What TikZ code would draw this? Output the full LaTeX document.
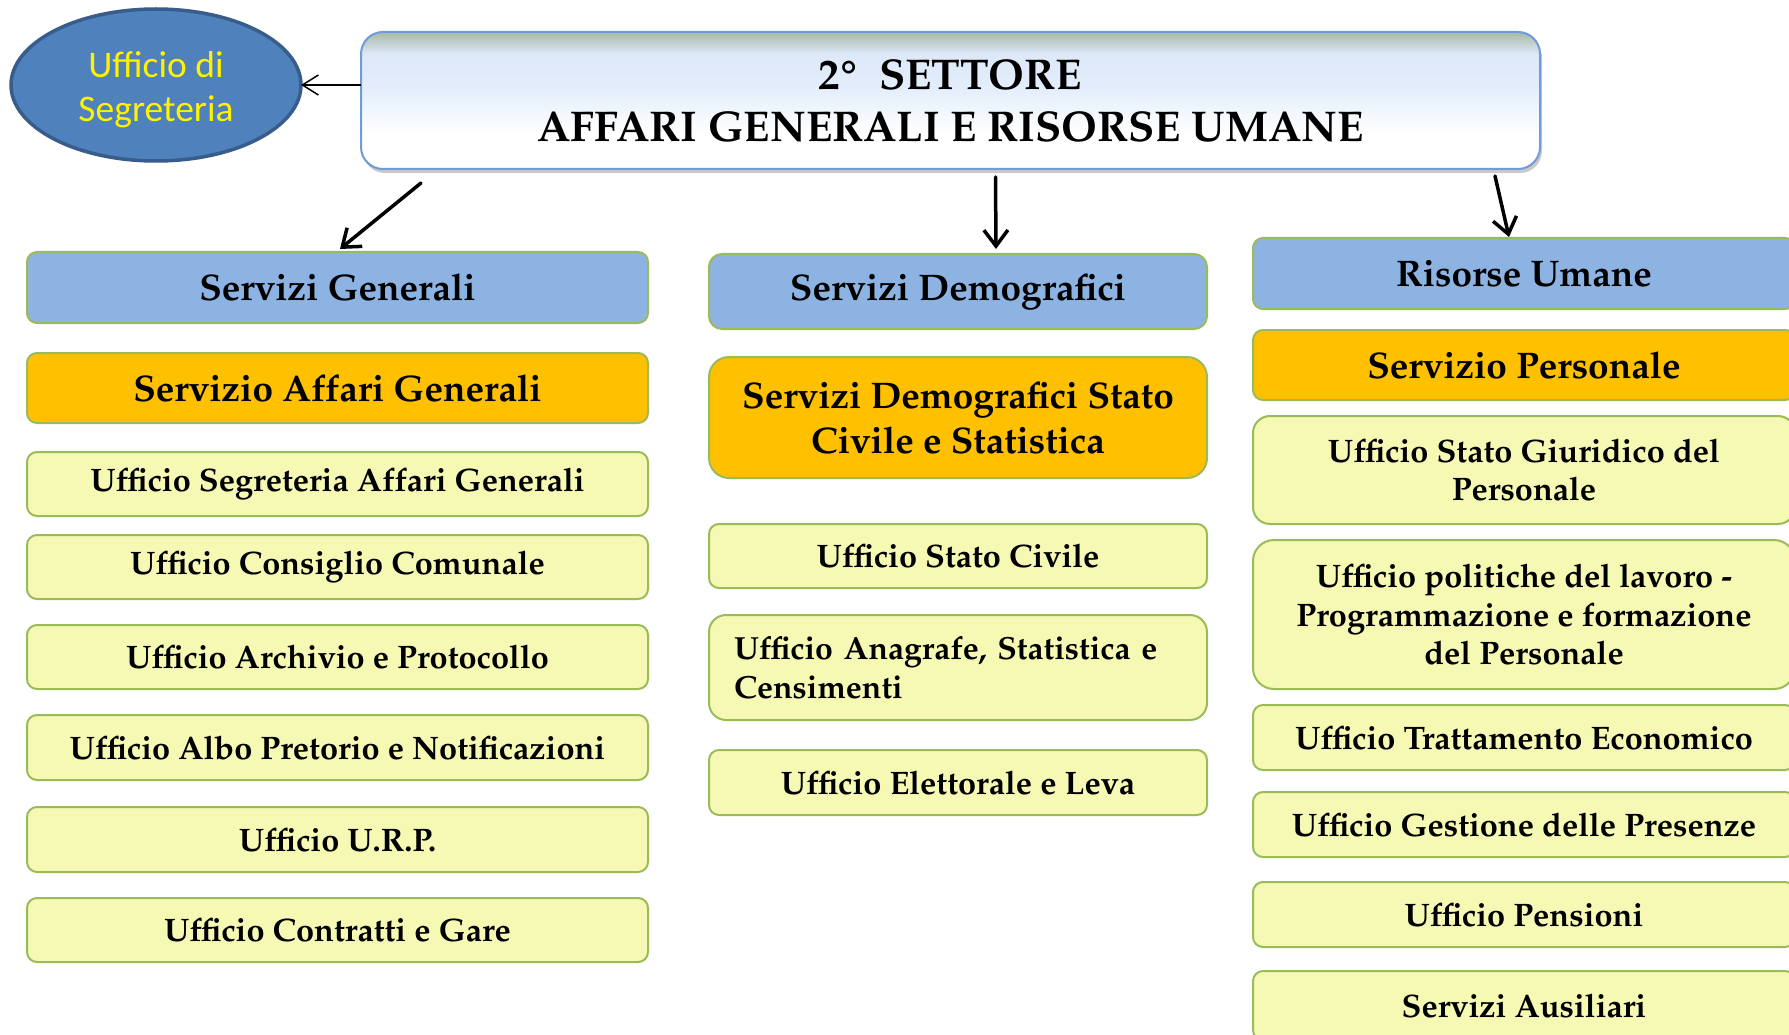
\documentclass[tikz,border=0pt]{standalone}
\usepackage{fontspec}
\newfontfamily\carlito{Carlito}
\usepackage[T1]{fontenc}
\renewcommand{\rmdefault}{ppl}
\usetikzlibrary{shapes.geometric,arrows.meta,shadows}
\definecolor{hdblue}{HTML}{8DB3E2}
\definecolor{hdorange}{HTML}{FFC000}
\definecolor{ufyellow}{HTML}{F5F9B3}
\definecolor{boxgreen}{HTML}{9BBB59}
\definecolor{ellfill}{HTML}{4F81BD}
\definecolor{elldraw}{HTML}{385D8A}
\definecolor{titleborder}{HTML}{6F9BD6}
\definecolor{tlblue}{HTML}{DDE8F9}
\definecolor{tlblueb}{HTML}{E3EDFB}
\definecolor{tlgray}{HTML}{A6B9A5}
\pgfdeclareverticalshading{titleshade}{100bp}{color(0bp)=(white); color(25bp)=(white); color(38bp)=(white); color(55bp)=(tlblueb); color(67bp)=(tlblue); color(75bp)=(tlgray); color(100bp)=(tlgray)}
\tikzset{
  box/.style={draw=boxgreen, line width=2pt, rounded corners=10pt, inner sep=0pt, outer sep=0pt, align=center, text=black},
  bluebox/.style={box, fill=hdblue, font=\fontsize{37}{44}\selectfont\bfseries},
  orangebox/.style={box, fill=hdorange, font=\fontsize{37}{45}\selectfont\bfseries},
  ufbox/.style={box, fill=ufyellow, font=\fontsize{32.5}{38.5}\selectfont\bfseries},
  titlebox/.style={draw=titleborder, line width=2pt, rounded corners=22pt, shading=titleshade, inner sep=0pt, outer sep=0pt, align=center, font=\fontsize{43}{52}\selectfont\bfseries, drop shadow={shadow xshift=2pt, shadow yshift=-4pt, opacity=0.35, fill=black!60}},
  segell/.style={ellipse, draw=elldraw, line width=3.5pt, fill=ellfill, inner sep=0pt, outer sep=0pt, align=center, text=yellow, font=\carlito\fontsize{37.5}{44}\selectfont},
  thickarr/.style={-{Straight Barb[length=16pt,width=24pt,line width=3.5pt]}, line width=3.5pt, line cap=round},
  thinarr/.style={-{Straight Barb[length=16pt,width=20pt,line width=1.5pt]}, line width=1.5pt}
}
\begin{document}
\begin{tikzpicture}[x=1pt,y=-1pt]
\path[use as bounding box, clip] (0,0) rectangle (1789,1035);
\fill[white] (0,0) rectangle (1789,1035);
% ellipse
\node[segell, minimum width=290pt, minimum height=152pt] (seg) at (156,85) {\rule{0pt}{36pt}Ufficio di\\Segreteria};
% title
\node[titlebox, minimum width=1179pt, minimum height=137pt] (title) at (950.5,100.5) {2\textdegree\ \ SETTORE\\AFFARI GENERALI E RISORSE UMANE};
% left column
\node[bluebox, minimum width=621pt, minimum height=71pt] (sg) at (337.5,287.5) {Servizi Generali};
\node[orangebox, minimum width=621pt, minimum height=70pt] (sag) at (337.5,388) {Servizio Affari Generali};
\node[ufbox, minimum width=621pt, minimum height=64pt] (u1) at (337.5,484) {Ufficio Segreteria Affari Generali};
\node[ufbox, minimum width=621pt, minimum height=64pt] (u2) at (337.5,567) {Ufficio Consiglio Comunale};
\node[ufbox, minimum width=621pt, minimum height=64pt] (u3) at (337.5,657) {Ufficio Archivio e Protocollo};
\node[ufbox, minimum width=621pt, minimum height=65pt] (u4) at (337.5,747.5) {Ufficio Albo Pretorio e Notificazioni};
\node[ufbox, minimum width=621pt, minimum height=65pt] (u5) at (337.5,839.5) {Ufficio U.R.P.};
\node[ufbox, minimum width=621pt, minimum height=64pt] (u6) at (337.5,930) {Ufficio Contratti e Gare};
% middle column
\node[bluebox, minimum width=498pt, minimum height=75pt, rounded corners=13pt] (sd) at (958,291.5) {Servizi Demografici};
\node[orangebox, minimum width=498pt, minimum height=121pt, rounded corners=20pt] (sdsc) at (958,417.5) {Servizi Demografici Stato\\Civile e Statistica};
\node[ufbox, minimum width=498pt, minimum height=64pt] (m1) at (958,556) {Ufficio Stato Civile};
\node[ufbox, minimum width=498pt, minimum height=105pt, rounded corners=17pt, text width=448pt, align=left, font=\fontsize{32}{38.5}\selectfont\bfseries] (m2) at (958,667.5) {Ufficio Anagrafe, Statistica e\\Censimenti};
\node[ufbox, minimum width=498pt, minimum height=65pt] (m3) at (958,782.5) {Ufficio Elettorale e Leva};
% right column
\node[bluebox, minimum width=542pt, minimum height=71pt] (ru) at (1524,273.5) {Risorse Umane};
\node[orangebox, minimum width=542pt, minimum height=70pt] (sp) at (1524,365) {Servizio Personale};
\node[ufbox, minimum width=542pt, minimum height=108pt, rounded corners=17pt] (r1) at (1524,470) {Ufficio Stato Giuridico del\\Personale};
\node[ufbox, minimum width=542pt, minimum height=149pt, rounded corners=21pt] (r2) at (1524,614.5) {Ufficio politiche del lavoro -\\Programmazione e formazione\\del Personale};
\node[ufbox, minimum width=542pt, minimum height=65pt] (r3) at (1524,737.5) {Ufficio Trattamento Economico};
\node[ufbox, minimum width=542pt, minimum height=65pt] (r4) at (1524,824.5) {Ufficio Gestione delle Presenze};
\node[ufbox, minimum width=542pt, minimum height=65pt] (r5) at (1524,914.5) {Ufficio Pensioni};
\node[ufbox, minimum width=542pt, minimum height=69pt] (r6) at (1524,1005.5) {Servizi Ausiliari};
% connectors
\draw[thinarr] (title.west |- seg.east) -- (seg.east);
\draw[thickarr] ([xshift=60pt,yshift=-14pt]title.south west) -- ([xshift=313pt,yshift=3pt]sg.north west);
\draw[thickarr] ([xshift=45pt,yshift=-8pt]title.south) -- ([xshift=38pt,yshift=5pt]sd.north);
\draw[thickarr] ([xshift=-45pt,yshift=-7pt]title.south east) -- ([xshift=-15pt,yshift=1pt]ru.north);
\end{tikzpicture}
\end{document}
